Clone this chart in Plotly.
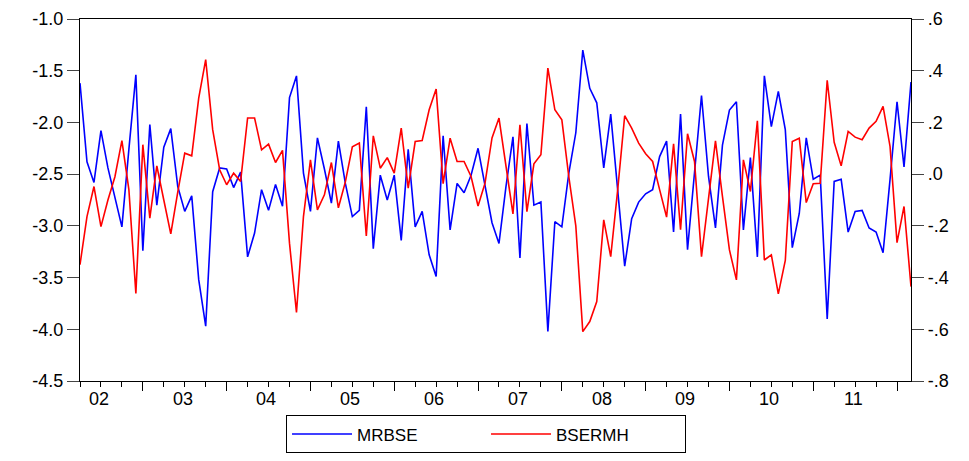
import plotly.graph_objects as go

# Monthly observations (index 0..119)
mrbse = [-1.62, -2.38, -2.58, -2.08, -2.44, -2.72, -3.01, -2.26, -1.54, -3.24,
         -2.02, -2.80, -2.24, -2.06, -2.62, -2.86, -2.71, -3.52, -3.97, -2.67,
         -2.44, -2.45, -2.63, -2.48, -3.30, -3.07, -2.65, -2.85, -2.60, -2.81,
         -1.76, -1.55, -2.49, -2.86, -2.15, -2.45, -2.78, -2.18, -2.59, -2.91,
         -2.85, -1.85, -3.22, -2.51, -2.75, -2.51, -3.14, -2.26, -3.01, -2.86,
         -3.28, -3.49, -2.13, -3.04, -2.59, -2.68, -2.51, -2.25, -2.62, -2.97,
         -3.17, -2.62, -2.14, -3.31, -2.01, -2.80, -2.77, -4.02, -2.96, -3.01,
         -2.49, -2.10, -1.30, -1.67, -1.81, -2.44, -1.92, -2.65, -3.39, -2.93,
         -2.77, -2.69, -2.65, -2.33, -2.18, -3.06, -1.92, -3.23, -2.49, -1.74,
         -2.52, -3.02, -2.22, -1.88, -1.80, -3.04, -2.34, -3.30, -1.55, -2.04,
         -1.70, -2.07, -3.21, -2.88, -2.15, -2.55, -2.51, -3.90, -2.57, -2.55,
         -3.06, -2.86, -2.85, -3.02, -3.06, -3.26, -2.55, -1.80, -2.43, -1.61]

bsermh = [-0.35, -0.164, -0.048, -0.203, -0.10, -0.01, 0.130, -0.06, -0.461, 0.114,
          -0.17, 0.032, -0.10, -0.231, -0.07, 0.081, 0.071, 0.294, 0.443, 0.172,
          0.017, -0.041, 0.004, -0.028, 0.217, 0.217, 0.094, 0.116, 0.045, 0.092,
          -0.267, -0.535, -0.164, 0.055, -0.138, -0.08, 0.045, -0.13, -0.03, 0.106,
          0.12, -0.239, 0.148, 0.023, 0.064, 0.004, 0.178, -0.054, 0.126, 0.130,
          0.249, 0.329, -0.037, 0.139, 0.049, 0.049, -0.009, -0.123, -0.035, 0.14,
          0.217, 0.03, -0.154, 0.191, -0.145, 0.04, 0.075, 0.41, 0.249, 0.21,
          -0.01, -0.2, -0.609, -0.57, -0.493, -0.177, -0.319, -0.06, 0.226, 0.178,
          0.12, 0.079, 0.049, -0.06, -0.166, 0.117, -0.215, 0.156, 0.049, -0.319,
          -0.093, 0.129, -0.086, -0.293, -0.409, 0.055, -0.067, 0.206, -0.332, -0.312,
          -0.463, -0.334, 0.126, 0.139, -0.11, -0.037, -0.035, 0.363, 0.123, 0.032,
          0.165, 0.143, 0.133, 0.178, 0.204, 0.262, 0.107, -0.265, -0.125, -0.435]

year_labels = ["02", "03", "04", "05", "06", "07", "08", "09", "10", "11"]
left_ticks = [-1.0, -1.5, -2.0, -2.5, -3.0, -3.5, -4.0, -4.5]
left_text = ["-1.0", "-1.5", "-2.0", "-2.5", "-3.0", "-3.5", "-4.0", "-4.5"]
right_ticks = [0.6, 0.4, 0.2, 0.0, -0.2, -0.4, -0.6, -0.8]
right_text = [".6", ".4", ".2", ".0", "-.2", "-.4", "-.6", "-.8"]

x = list(range(len(mrbse)))
major_ticks = [9 + 12 * k for k in range(len(year_labels))]
label_pos = [2.7 + 12 * k for k in range(len(year_labels))]

FONT = "Liberation Sans, Arial, sans-serif"

fig = go.Figure()
fig.add_trace(go.Scatter(x=x, y=mrbse, name="MRBSE", mode="lines",
                         line=dict(color="#0000FF", width=1.6), yaxis="y"))
fig.add_trace(go.Scatter(x=x, y=bsermh, name="BSERMH", mode="lines",
                         line=dict(color="#FF0000", width=1.6), yaxis="y2"))

for pos, lab in zip(label_pos, year_labels):
    fig.add_annotation(x=pos, y=0, xref="x", yref="paper", text=lab,
                       showarrow=False, yanchor="top", yshift=-6,
                       font=dict(family=FONT, size=18, color="black"))

fig.update_layout(
    width=969, height=461,
    margin=dict(l=72, r=66, t=11, b=88, autoexpand=False),
    paper_bgcolor="white", plot_bgcolor="white",
    font=dict(family=FONT, size=18, color="black"),
    xaxis=dict(range=[0, len(mrbse) - 1], showgrid=False, zeroline=False,
               automargin=False,
               showline=True, mirror=True, linecolor="black", linewidth=1.2,
               tickmode="array", tickvals=major_ticks,
               ticktext=[""] * len(major_ticks),
               ticks="outside", ticklen=9, tickwidth=1.2, tickcolor="black",
               minor=dict(tickmode="linear", tick0=0, dtick=3, ticks="outside",
                          ticklen=5, tickwidth=1, tickcolor="black", showgrid=False)),
    yaxis=dict(range=[-4.5, -1.0], showgrid=False, zeroline=False,
               automargin=False,
               showline=True, linecolor="black", linewidth=1.2,
               tickmode="array", tickvals=left_ticks, ticktext=left_text,
               ticks="outside", ticklen=12, tickwidth=1, tickcolor="#444",
               tickfont=dict(family=FONT, size=18, color="black")),
    yaxis2=dict(range=[-0.8, 0.6], overlaying="y", side="right",
                showgrid=False, zeroline=False, automargin=False,
                showline=True, linecolor="black", linewidth=1.2,
                tickmode="array", tickvals=right_ticks, ticktext=right_text,
                ticks="outside", ticklen=12, tickwidth=1, tickcolor="#444",
                tickfont=dict(family=FONT, size=18, color="black")),
    showlegend=True,
    legend=dict(orientation="h", x=0.4886, xanchor="center", y=-0.095, yanchor="top",
                bordercolor="black", borderwidth=1, bgcolor="white",
                font=dict(family=FONT, size=17, color="black"),
                entrywidth=124, itemwidth=60, valign="middle"),
)

fig.write_html("out.html")
